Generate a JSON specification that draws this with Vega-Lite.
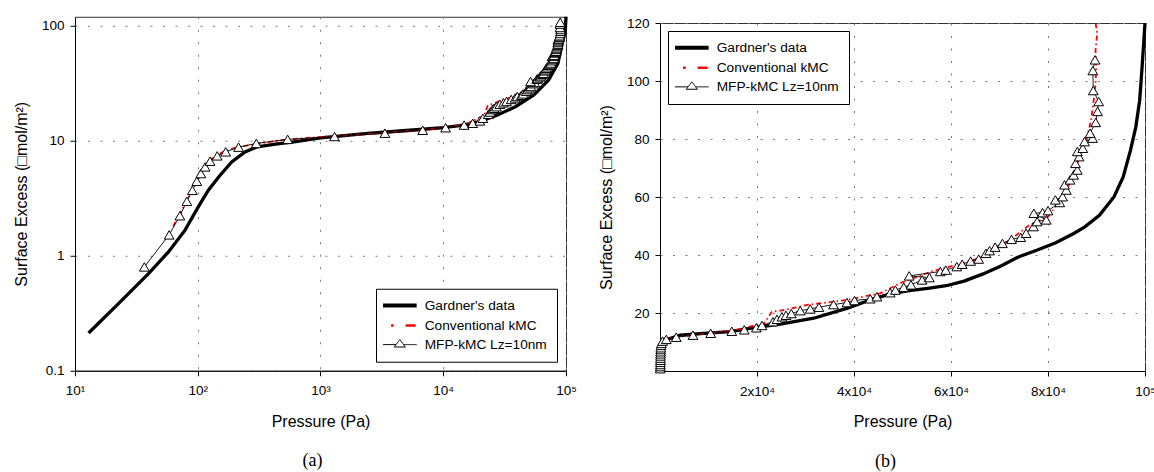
{
  "$schema": "https://vega.github.io/schema/vega-lite/v6.json",
  "background": "white",
  "padding": {"left": 12, "top": 9.5, "right": 0, "bottom": 0},
  "spacing": 20,
  "center": true,
  "datasets": {
    "gardnerA": [
      {"p": 12.9, "s": 0.213}, {"p": 22.6, "s": 0.384}, {"p": 39.7, "s": 0.70}, {"p": 57.7, "s": 1.08},
      {"p": 78.8, "s": 1.67}, {"p": 101, "s": 2.66}, {"p": 122, "s": 3.72}, {"p": 148, "s": 4.85},
      {"p": 189, "s": 6.54}, {"p": 243, "s": 8.0}, {"p": 304, "s": 8.87}, {"p": 430, "s": 9.36},
      {"p": 607, "s": 9.8}, {"p": 1000, "s": 10.6}, {"p": 2426, "s": 11.6}, {"p": 5000, "s": 12.3},
      {"p": 10000, "s": 13.0}, {"p": 14680, "s": 13.7}, {"p": 19360, "s": 14.6}, {"p": 27370, "s": 16.7},
      {"p": 38700, "s": 19.8}, {"p": 54700, "s": 25.0}, {"p": 72200, "s": 33.8}, {"p": 85900, "s": 47.2},
      {"p": 93300, "s": 70.7}, {"p": 98600, "s": 90}, {"p": 100000, "s": 120}
    ],
    "gardnerB": [
      {"p": 12.9, "s": 0.213}, {"p": 101, "s": 2.66}, {"p": 304, "s": 8.87}, {"p": 1000, "s": 10.6},
      {"p": 4200, "s": 12.4}, {"p": 9000, "s": 13.0}, {"p": 14500, "s": 13.6}, {"p": 20000, "s": 15.1},
      {"p": 24800, "s": 16.2}, {"p": 31700, "s": 18.2}, {"p": 38500, "s": 21.6}, {"p": 43340, "s": 24.5},
      {"p": 47700, "s": 26.7}, {"p": 51400, "s": 27.7}, {"p": 55200, "s": 28.5}, {"p": 59000, "s": 29.4},
      {"p": 62700, "s": 31.0}, {"p": 66500, "s": 33.4}, {"p": 70300, "s": 36.2}, {"p": 74000, "s": 39.4},
      {"p": 77800, "s": 41.7}, {"p": 81600, "s": 44.2}, {"p": 85300, "s": 47.4}, {"p": 87600, "s": 49.7},
      {"p": 90600, "s": 53.7}, {"p": 93600, "s": 60.0}, {"p": 95500, "s": 66.9}, {"p": 97000, "s": 76.1},
      {"p": 98100, "s": 84.1}, {"p": 98900, "s": 93.3}, {"p": 99400, "s": 104.8}, {"p": 100000, "s": 120}
    ],
    "conv": [
      {"p": 63, "s": 1.8}, {"p": 80, "s": 2.9}, {"p": 95, "s": 4.1}, {"p": 110, "s": 5.5},
      {"p": 130, "s": 7.0}, {"p": 160, "s": 8.0}, {"p": 200, "s": 8.7}, {"p": 300, "s": 9.4},
      {"p": 500, "s": 10.2}, {"p": 1000, "s": 10.8}, {"p": 3000, "s": 11.6}, {"p": 7000, "s": 12.4},
      {"p": 10000, "s": 13.0}, {"p": 15000, "s": 13.9}, {"p": 17940, "s": 15.1}, {"p": 21500, "s": 16.5},
      {"p": 23090, "s": 20.5}, {"p": 24800, "s": 20.8}, {"p": 27000, "s": 21.5}, {"p": 30300, "s": 22.8},
      {"p": 35780, "s": 23.9}, {"p": 38540, "s": 24.5}, {"p": 45400, "s": 26.8}, {"p": 49800, "s": 30.5},
      {"p": 55900, "s": 34.3}, {"p": 61000, "s": 36.5}, {"p": 65000, "s": 38.5}, {"p": 68850, "s": 42.0},
      {"p": 72000, "s": 45.0}, {"p": 76250, "s": 50.4}, {"p": 80010, "s": 53.2}, {"p": 83780, "s": 61.9},
      {"p": 86050, "s": 71.6}, {"p": 87920, "s": 79.7}, {"p": 88900, "s": 86.6}, {"p": 89430, "s": 93.5},
      {"p": 89800, "s": 99.2}, {"p": 89940, "s": 104.9}, {"p": 89800, "s": 110.6}, {"p": 90150, "s": 116.4},
      {"p": 89800, "s": 120}
    ],
    "mfp": [
      {"p": 36.7, "s": 0.80}, {"p": 58.5, "s": 1.52}, {"p": 71.5, "s": 2.23}, {"p": 81.5, "s": 2.98},
      {"p": 90.4, "s": 3.71}, {"p": 98.2, "s": 4.45}, {"p": 106, "s": 5.19}, {"p": 115, "s": 5.93},
      {"p": 126, "s": 6.65}, {"p": 144, "s": 7.40}, {"p": 169, "s": 8.02}, {"p": 215, "s": 8.81},
      {"p": 300, "s": 9.49}, {"p": 540, "s": 10.3}, {"p": 1300, "s": 10.9}, {"p": 3350, "s": 11.65},
      {"p": 6800, "s": 12.35}, {"p": 10450, "s": 13.0}, {"p": 14800, "s": 13.7}, {"p": 17380, "s": 14.2},
      {"p": 19860, "s": 14.9}, {"p": 21030, "s": 15.7}, {"p": 23300, "s": 17.0}, {"p": 24120, "s": 17.8},
      {"p": 25150, "s": 18.7}, {"p": 25980, "s": 19.2}, {"p": 27070, "s": 19.8}, {"p": 28920, "s": 20.8},
      {"p": 30980, "s": 21.4}, {"p": 32770, "s": 22.0}, {"p": 35780, "s": 22.9}, {"p": 38540, "s": 23.6},
      {"p": 40110, "s": 24.3}, {"p": 43340, "s": 24.9}, {"p": 44720, "s": 25.6}, {"p": 47460, "s": 27.0},
      {"p": 48530, "s": 27.9}, {"p": 50260, "s": 28.9}, {"p": 51770, "s": 29.7}, {"p": 54040, "s": 31.4},
      {"p": 55540, "s": 32.2}, {"p": 51380, "s": 32.8}, {"p": 57790, "s": 34.3}, {"p": 58920, "s": 34.8},
      {"p": 61190, "s": 36.0}, {"p": 62300, "s": 36.8}, {"p": 64050, "s": 37.9}, {"p": 65700, "s": 38.6},
      {"p": 67200, "s": 40.6}, {"p": 67960, "s": 41.5}, {"p": 69100, "s": 42.7}, {"p": 70600, "s": 44.0},
      {"p": 72480, "s": 45.4}, {"p": 74370, "s": 46.1}, {"p": 75480, "s": 47.5}, {"p": 77000, "s": 49.8},
      {"p": 77750, "s": 51.5}, {"p": 79640, "s": 52.1}, {"p": 77070, "s": 54.4}, {"p": 78880, "s": 54.6},
      {"p": 80010, "s": 55.3}, {"p": 82420, "s": 58.1}, {"p": 81520, "s": 59.0}, {"p": 83020, "s": 60.1},
      {"p": 83780, "s": 62.4}, {"p": 83410, "s": 64.2}, {"p": 84540, "s": 65.9}, {"p": 85290, "s": 67.6},
      {"p": 86050, "s": 69.3}, {"p": 85670, "s": 71.6}, {"p": 86410, "s": 73.9}, {"p": 86050, "s": 75.7},
      {"p": 87170, "s": 76.8}, {"p": 87540, "s": 79.1}, {"p": 89190, "s": 80.3}, {"p": 88680, "s": 82.0},
      {"p": 89830, "s": 85.7}, {"p": 90220, "s": 89.5}, {"p": 90450, "s": 92.9}, {"p": 89330, "s": 96.7},
      {"p": 89250, "s": 103.6}, {"p": 89700, "s": 107.3}
    ]
  },
  "resolve": {"scale": {"color": "independent"}, "legend": {"color": "independent"}},
  "hconcat": [
    {
      "width": 491,
      "height": 354,
      "title": {"text": "(a)", "subtitle": " ", "subtitleFontSize": 6.5, "subtitlePadding": 0, "orient": "bottom", "font": "Liberation Serif", "fontSize": 18, "fontWeight": "normal", "color": "black", "offset": 23, "dx": -8},
      "encoding": {
        "x": {"field": "p", "type": "quantitative", "scale": {"type": "log", "domain": [10, 100000], "nice": false},
              "axis": {"title": "Pressure (Pa)", "values": [10, 100, 1000, 10000, 100000],
                       "labelExpr": "'10' + ['⁰','¹','²','³','⁴','⁵'][round(log(datum.value)/LN10)]"}},
        "y": {"field": "s", "type": "quantitative", "scale": {"type": "log", "domain": [0.1, 120], "nice": false},
              "axis": {"title": "Surface Excess (□mol/m²)", "values": [0.1, 1, 10, 100],
                       "labelExpr": "datum.value < 0.5 ? '0.1' : '' + round(datum.value)"}}
      },
      "layer": [
        {"data": {"name": "gardnerA"}, "mark": {"type": "line", "strokeWidth": 3.3, "strokeCap": "butt"},
         "encoding": {"order": {"field": "s", "type": "quantitative"},
           "color": {"datum": "Gardner's data", "type": "nominal",
             "scale": {"domain": ["Gardner's data", "Conventional kMC", "MFP-kMC Lz=10nm"], "range": ["black", "red", "black"]},
             "legend": {"title": null, "orient": "bottom-right", "offset": 9,
               "encode": {"symbols": {"update": {
                 "shape": {"signal": "datum.value == 'MFP-kMC Lz=10nm' ? 'M-4.2,0H-0.95M0.95,0H4.2M-1.4,0.6L0,-1.25L1.4,0.6Z' : 'M-4.2,0H4.2'"},
                 "stroke": {"signal": "datum.value == 'Conventional kMC' ? 'red' : 'black'"},
                 "strokeWidth": {"signal": "datum.value == 'Conventional kMC' ? 2.5 : datum.value == 'MFP-kMC Lz=10nm' ? 1 : 4"},
                 "strokeDash": {"signal": "datum.value == 'Conventional kMC' ? [0.01, 8, 2.6, 12, 10, 100] : [1, 0]"},
                 "fill": {"value": "white"},
                 "opacity": {"value": 1}
               }}}}}}},
        {"data": {"name": "conv"}, "mark": {"type": "line", "strokeWidth": 1.8, "strokeDash": [5, 3, 1.5, 3]},
         "encoding": {"order": {"field": "s", "type": "quantitative"}, "color": {"datum": "Conventional kMC", "type": "nominal"}}},
        {"data": {"name": "mfp"}, "mark": {"type": "line", "strokeWidth": 0.9},
         "encoding": {"order": {"field": "s", "type": "quantitative"}, "color": {"datum": "MFP-kMC Lz=10nm", "type": "nominal"}}},
        {"data": {"name": "mfp"}, "mark": {"type": "point", "shape": "triangle-up", "filled": true, "fill": "white", "stroke": "black", "strokeWidth": 1, "size": 95, "opacity": 1}}
      ]
    },
    {
      "width": 485,
      "height": 348,
      "title": {"text": "(b)", "orient": "bottom", "font": "Liberation Serif", "fontSize": 18, "fontWeight": "normal", "color": "black", "offset": 23, "dx": -17},
      "encoding": {
        "x": {"field": "p", "type": "quantitative", "scale": {"domain": [0, 100000], "nice": false},
              "axis": {"title": "Pressure (Pa)", "values": [20000, 40000, 60000, 80000, 100000],
                       "labelExpr": "datum.value == 100000 ? '10⁵' : (datum.value/10000) + 'x10⁴'"}},
        "y": {"field": "s", "type": "quantitative", "scale": {"domain": [0, 120], "nice": false},
              "axis": {"title": "Surface Excess (□mol/m²)", "values": [20, 40, 60, 80, 100, 120]}}
      },
      "layer": [
        {"data": {"name": "gardnerB"}, "mark": {"type": "line", "strokeWidth": 3.3, "strokeCap": "butt"},
         "encoding": {"order": {"field": "s", "type": "quantitative"},
           "color": {"datum": "Gardner's data", "type": "nominal",
             "scale": {"domain": ["Gardner's data", "Conventional kMC", "MFP-kMC Lz=10nm"], "range": ["black", "red", "black"]},
             "legend": {"title": null, "orient": "top-left", "offset": 8,
               "encode": {"symbols": {"update": {
                 "shape": {"signal": "datum.value == 'MFP-kMC Lz=10nm' ? 'M-4.2,0H-0.95M0.95,0H4.2M-1.4,0.6L0,-1.25L1.4,0.6Z' : 'M-4.2,0H4.2'"},
                 "stroke": {"signal": "datum.value == 'Conventional kMC' ? 'red' : 'black'"},
                 "strokeWidth": {"signal": "datum.value == 'Conventional kMC' ? 2.5 : datum.value == 'MFP-kMC Lz=10nm' ? 1 : 4"},
                 "strokeDash": {"signal": "datum.value == 'Conventional kMC' ? [0.01, 8, 2.6, 12, 10, 100] : [1, 0]"},
                 "fill": {"value": "white"},
                 "opacity": {"value": 1}
               }}}}}}},
        {"data": {"name": "conv"}, "mark": {"type": "line", "strokeWidth": 1.8, "strokeDash": [5, 3, 1.5, 3]},
         "encoding": {"order": {"field": "s", "type": "quantitative"}, "color": {"datum": "Conventional kMC", "type": "nominal"}}},
        {"data": {"name": "mfp"}, "mark": {"type": "line", "strokeWidth": 0.9},
         "encoding": {"order": {"field": "s", "type": "quantitative"}, "color": {"datum": "MFP-kMC Lz=10nm", "type": "nominal"}}},
        {"data": {"name": "mfp"}, "mark": {"type": "point", "shape": "triangle-up", "filled": true, "fill": "white", "stroke": "black", "strokeWidth": 1, "size": 95, "opacity": 1}}
      ]
    }
  ],
  "config": {
    "font": "Liberation Sans",
    "view": {"stroke": "#333333", "strokeWidth": 1},
    "axis": {
      "labelFont": "Liberation Sans", "labelFontSize": 13.5, "labelColor": "black",
      "titleFont": "Liberation Sans", "titleFontSize": 16, "titleFontWeight": "normal", "titleColor": "black",
      "tickColor": "black", "tickSize": 5, "domainColor": "black",
      "grid": true, "gridColor": "#7a7a7a", "gridDash": [2, 10.5], "gridWidth": 1,
      "labelFlush": false, "labelOverlap": false
    },
    "axisX": {"labelPadding": 8, "titlePadding": 16},
    "axisY": {"labelPadding": 6, "titlePadding": 12},
    "legend": {
      "labelFont": "Liberation Sans", "labelFontSize": 13.7, "labelColor": "black",
      "symbolSize": 64, "symbolOffset": 7, "labelOffset": 18, "rowPadding": 4,
      "padding": 10, "strokeColor": "black", "fillColor": "white", "cornerRadius": 0
    }
  }
}
